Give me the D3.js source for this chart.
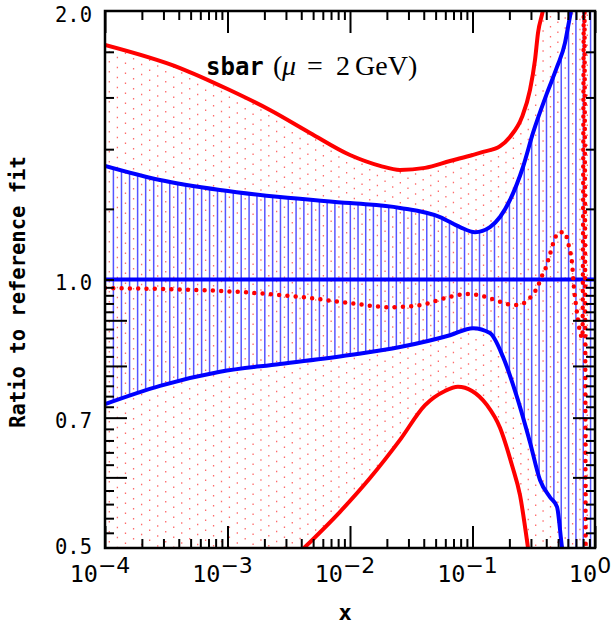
<!DOCTYPE html>
<html>
<head>
<meta charset="utf-8">
<script src="https://cdn.jsdelivr.net/npm/d3@7"></script>
<style>
body { margin: 0; background: #fff; }
svg { display: block; }
</style>
</head>
<body>
<svg width="616" height="625"></svg>
<script>
// curves (x, ratio to reference fit)
var redUpX = [1e-4, 4.1e-4, 1e-3, 2.22e-3, 4.72e-3, 0.01, 0.0176, 0.0256, 0.041, 0.0655, 0.1, 0.122, 0.168, 0.202, 0.2535, 0.2946, 0.3237, 0.3425, 0.376, 0.413];
var redUpY = [1.832, 1.726, 1.635, 1.549, 1.460, 1.379, 1.341, 1.327, 1.334, 1.358, 1.379, 1.390, 1.411, 1.445, 1.521, 1.631, 1.762, 1.890, 2.005, 2.19];

var redLowX = [4.21e-3, 8.29e-3, 0.01457, 0.0256, 0.041, 0.0596, 0.0761, 0.0991, 0.1314, 0.1677, 0.2101, 0.2442, 0.2839, 0.3003];
var redLowY = [0.5, 0.549, 0.599, 0.661, 0.723, 0.750, 0.758, 0.750, 0.723, 0.682, 0.619, 0.573, 0.5, 0.472];

var blueUpX = [1e-4, 2.81e-4, 8.69e-4, 2.68e-3, 0.01, 0.0256, 0.0543, 0.0791, 0.1048, 0.1389, 0.1677, 0.2024, 0.2584, 0.3118, 0.4057, 0.4896, 0.5689, 0.6019, 0.6369, 0.674];
var blueUpY = [1.341, 1.293, 1.260, 1.237, 1.218, 1.203, 1.175, 1.145, 1.130, 1.145, 1.175, 1.228, 1.337, 1.460, 1.618, 1.731, 1.842, 1.919, 2.0, 2.112];

var blueLowX = [1e-4, 2.81e-4, 8.69e-4, 2.68e-3, 0.01, 0.0256, 0.0655, 0.101, 0.1389, 0.1775, 0.2309, 0.2946, 0.3556, 0.4293, 0.4896, 0.5378, 0.5689];
var blueLowY = [0.725, 0.760, 0.788, 0.804, 0.823, 0.840, 0.866, 0.882, 0.871, 0.819, 0.738, 0.657, 0.596, 0.570, 0.556, 0.501, 0.478];

var centX = [1e-4, 8.69e-4, 3.91e-3, 0.01, 0.0212, 0.0373, 0.0655, 0.0902, 0.1218, 0.1615, 0.2183, 0.2535, 0.2892, 0.3177, 0.3425, 0.3624, 0.3907, 0.4293, 0.4716, 0.5084, 0.5583, 0.5907, 0.6135, 0.649, 0.6739, 0.6997, 0.7265, 0.7545, 0.79, 0.815, 0.84];
var centY = [0.978, 0.971, 0.956, 0.941, 0.931, 0.936, 0.956, 0.963, 0.958, 0.946, 0.936, 0.939, 0.951, 0.966, 0.983, 1.004, 1.025, 1.068, 1.113, 1.130, 1.130, 1.113, 1.088, 1.044, 0.978, 0.936, 0.901, 0.873, 0.86, 2.3, 0.42];

var refX = [1e-4, 1];
var refY = [1, 1];

// axis labels
var xLabelVals = [1e-4, 1e-3, 1e-2, 1e-1, 1];
var xLabelExp = ["\u22124", "\u22123", "\u22122", "\u22121", "0"];
var yLabelVals = [2, 1, 0.7, 0.5];
var yLabelText = ["2.0", "1.0", "0.7", "0.5"];

var svg = d3.select("svg");
var pL = 105, pR = 595, pT = 11, pB = 548;

var x = d3.scaleLog().domain([1e-4, 1]).range([pL, pR]);
var y = d3.scaleLog().domain([0.5, 2]).range([pB, pT]);

function pts(xs, ys) { return xs.map(function(v, i) { return [v, ys[i]]; }); }

var line = d3.line()
    .x(function(d) { return x(d[0]); })
    .y(function(d) { return y(d[1]); })
    .curve(d3.curveMonotoneX);

// region under / above a curve, left and right of it fully open
function under(p) {
  var x0 = x(p[0][0]), x1 = x(p[p.length - 1][0]);
  return "M-100,700L-100,-100L" + x0 + ",-100L" + line(p).slice(1) +
         "L" + x1 + ",-100L700,-100L700,700Z";
}
function above(p) {
  var x0 = x(p[0][0]), x1 = x(p[p.length - 1][0]);
  return "M-100,-100L-100,700L" + x0 + ",700L" + line(p).slice(1) +
         "L" + x1 + ",700L700,700L700,-100Z";
}

var redUp = pts(redUpX, redUpY), redLow = pts(redLowX, redLowY);
var blueUp = pts(blueUpX, blueUpY), blueLow = pts(blueLowX, blueLowY);

var defs = svg.append("defs");
defs.append("clipPath").attr("id", "plot")
  .append("rect").attr("x", pL).attr("y", pT)
  .attr("width", pR - pL).attr("height", pB - pT);
defs.append("clipPath").attr("id", "redU").append("path").attr("d", under(redUp));
defs.append("clipPath").attr("id", "redL").append("path").attr("d", above(redLow));
defs.append("clipPath").attr("id", "blueU").append("path").attr("d", under(blueUp));
defs.append("clipPath").attr("id", "blueL").append("path").attr("d", above(blueLow));

// hatch columns, slightly tighter toward the right
var cols = [];
for (var cx = pL + 0.3; cx < pR; cx += 8.1 - 0.8 * (cx - pL) / (pR - pL)) cols.push(cx);

var plot = svg.append("g").attr("clip-path", "url(#plot)");

var redBand = plot.append("g").attr("clip-path", "url(#redU)")
  .append("g").attr("clip-path", "url(#redL)");
redBand.selectAll("line").data(cols).enter().append("line")
  .attr("x1", function(d, i) { return d + 4; })
  .attr("x2", function(d, i) { return d + 4; })
  .attr("y1", pT).attr("y2", pB)
  .attr("stroke", "#ff3a3a")
  .attr("stroke-width", 1.3)
  .attr("stroke-opacity", 0.75)
  .attr("stroke-dasharray", "1.5 8.5")
  .attr("stroke-dashoffset", function(d, i) { return (i * 4.3) % 10; });

var blueBand = plot.append("g").attr("clip-path", "url(#blueU)")
  .append("g").attr("clip-path", "url(#blueL)");
blueBand.selectAll("line").data(cols).enter().append("line")
  .attr("x1", function(d) { return d; })
  .attr("x2", function(d) { return d; })
  .attr("y1", pT).attr("y2", pB)
  .attr("stroke", "#2a2aff")
  .attr("stroke-width", 1.5)
  .attr("stroke-opacity", 0.8);

// solid curves
[[redUp, "#ff0000"], [redLow, "#ff0000"], [blueUp, "#0000ff"], [blueLow, "#0000ff"],
 [pts(refX, refY), "#0000ff"]].forEach(function(c) {
  plot.append("path").attr("d", line(c[0]))
    .attr("fill", "none").attr("stroke", c[1]).attr("stroke-width", 4);
});

// central value, dotted
plot.append("path").attr("d", line(pts(centX, centY)))
  .attr("fill", "none").attr("stroke", "#ff0000")
  .attr("stroke-width", 4.5)
  .attr("stroke-linecap", "round")
  .attr("stroke-dasharray", "0 8.3");

// ticks
var xMajor = xLabelVals;
var xMinor = [];
d3.range(-4, 0).forEach(function(k) {
  d3.range(2, 10).forEach(function(m) { xMinor.push(m * Math.pow(10, k)); });
});
var yMajor = [0.6, 0.7, 0.8, 0.9];
var yMinor = d3.range(26, 50).map(function(i) { return i / 50; })
  .filter(function(v) { return yMajor.indexOf(Math.round(v * 100) / 100) < 0; })
  .concat([1.0, 1.2, 1.4, 1.6, 1.8]);

function tickAxis(axis, vals, size, tr) {
  var g = svg.append("g").attr("transform", tr)
    .call(axis.tickValues(vals).tickSize(-size).tickFormat(""));
  g.select(".domain").remove();
  g.selectAll("line").attr("stroke", "#000").attr("stroke-width", 2);
}
tickAxis(d3.axisBottom(x), xMinor, 9, "translate(0," + pB + ")");
tickAxis(d3.axisBottom(x), xMajor, 22, "translate(0," + pB + ")");
tickAxis(d3.axisTop(x), xMinor, 9, "translate(0," + pT + ")");
tickAxis(d3.axisTop(x), xMajor, 22, "translate(0," + pT + ")");
tickAxis(d3.axisLeft(y), yMinor, 9, "translate(" + pL + ",0)");
tickAxis(d3.axisLeft(y), yMajor, 22, "translate(" + pL + ",0)");
tickAxis(d3.axisRight(y), yMinor, 9, "translate(" + pR + ",0)");
tickAxis(d3.axisRight(y), yMajor, 22, "translate(" + pR + ",0)");

svg.append("rect").attr("x", pL).attr("y", pT)
  .attr("width", pR - pL).attr("height", pB - pT)
  .attr("fill", "none").attr("stroke", "#000").attr("stroke-width", 2.5);

// tick labels
var mono = "'DejaVu Sans Mono', monospace";
svg.selectAll(".ylab").data(yLabelVals).enter().append("text")
  .attr("class", "ylab")
  .attr("x", 92)
  .attr("y", function(d) { return y(d) + (d === 0.5 ? 6 : 10.5); })
  .attr("text-anchor", "end")
  .style("font-family", mono).style("font-size", "20.5px")
  .text(function(d, i) { return yLabelText[i]; });

var xl = svg.selectAll(".xlab").data(xLabelVals).enter().append("text")
  .attr("class", "xlab")
  .attr("x", function(d) { return x(d) - 5; })
  .attr("y", 582)
  .attr("text-anchor", "middle")
  .style("font-family", mono).style("font-size", "23.5px");
xl.append("tspan").text("10");
xl.append("tspan").attr("dy", -9.5)
  .style("font-family", "'DejaVu Sans', sans-serif").style("font-size", "22px")
  .text(function(d, i) { return xLabelExp[i]; });

// axis titles
svg.append("text")
  .attr("transform", "translate(25,292) rotate(-90)")
  .attr("text-anchor", "middle")
  .style("font-family", mono).style("font-size", "20.5px").style("font-weight", "bold")
  .text("Ratio to reference fit");

svg.append("text")
  .attr("x", 345).attr("y", 620)
  .attr("text-anchor", "middle")
  .style("font-family", mono).style("font-size", "22px").style("font-weight", "bold")
  .text("x");

// panel title
var serif = "'Liberation Serif', serif";
var t = svg.append("text").attr("y", 75);
t.append("tspan").attr("x", 206)
  .style("font-family", mono).style("font-size", "24px").style("font-weight", "bold")
  .text("sbar");
t.append("tspan").attr("x", 273).style("font-family", serif).style("font-size", "28px").text("(");
t.append("tspan").attr("x", 282).style("font-family", serif).style("font-size", "28px")
  .style("font-style", "italic").text("\u03bc");
t.append("tspan").attr("x", 307).style("font-family", serif).style("font-size", "28px").text("=");
t.append("tspan").attr("x", 336).style("font-family", serif).style("font-size", "28px").text("2");
t.append("tspan").attr("x", 355).style("font-family", serif).style("font-size", "28px").text("GeV");
t.append("tspan").attr("x", 408).style("font-family", serif).style("font-size", "28px").text(")");
</script>
</body>
</html>
